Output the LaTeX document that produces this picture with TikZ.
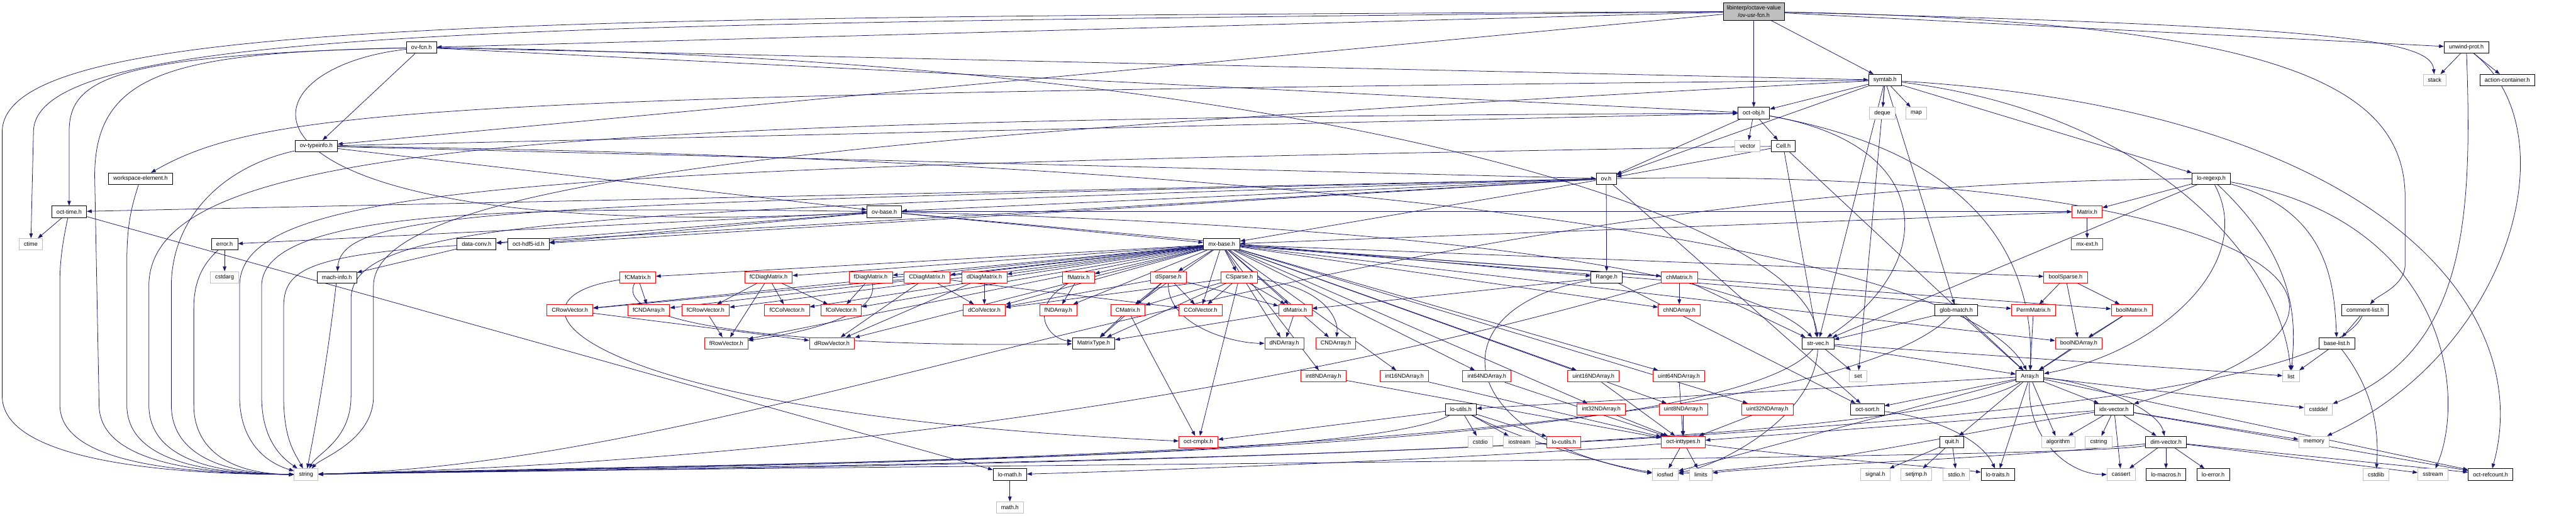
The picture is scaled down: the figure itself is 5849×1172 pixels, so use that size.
\documentclass[tikz,border=0pt]{standalone}
\usepackage{fontspec}
\setmainfont{Liberation Sans}
\usetikzlibrary{arrows.meta}
\definecolor{edgeblue}{HTML}{191970}
\definecolor{greyline}{HTML}{BFBFBF}
\pgfdeclarelayer{bg}
\pgfdeclarelayer{edges}
\pgfsetlayers{bg,edges,main}
\begin{document}
\begin{tikzpicture}[x=1pt,y=1pt,
  box/.style={font=\fontsize{13}{16}\selectfont, inner xsep=11pt, inner ysep=0pt, minimum height=26pt, line width=1.2pt, fill=white},
  nb/.style={box, draw=black},
  ng/.style={box, draw=greyline},
  nr/.style={box, draw=red},
  nroot/.style={box, draw=black, fill=greyline, align=center, minimum height=40pt, inner xsep=8pt},
  e/.style={draw=edgeblue, line width=1.1pt, -{Triangle[length=11pt,width=8pt]}},
]
\useasboundingbox (0,0) rectangle (5849,-1172);
\begin{pgfonlayer}{bg}
\fill[white] (0,0) rectangle (5849,-1172);
\end{pgfonlayer}

% ---------- nodes ----------
\node[nroot] (root) at (3982,-26) {libinterp/octave-value\\/ov-usr-fcn.h};
\node[nb] (ovfcn) at (957,-108) {ov-fcn.h};
\node[nb] (unwind) at (5600,-108) {unwind-prot.h};
\node[nb] (symtab) at (4280,-182) {symtab.h};
\node[ng] (stack) at (5528,-182) {stack};
\node[nb] (actcont) at (5693,-182) {action-container.h};
\node[ng] (deque) at (4274,-257) {deque};
\node[ng] (map) at (4351,-257) {map};
\node[nb] (octobj) at (3982,-257) {oct-obj.h};
\node[ng] (vector) at (3968,-332) {vector};
\node[nb] (cell) at (4049,-332) {Cell.h};
\node[nb] (typeinfo) at (718,-332) {ov-typeinfo.h};
\node[nb] (wse) at (319,-406) {workspace-element.h};
\node[nb] (ovh) at (3647,-406) {ov.h};
\node[nb] (regexp) at (5021,-406) {lo-regexp.h};
\node[nb] (octtime) at (157,-481) {oct-time.h};
\node[nb] (ovbase) at (2008,-481) {ov-base.h};
\node[nr] (matrix) at (4739,-481) {Matrix.h};
\node[ng] (ctime) at (70,-555) {ctime};
\node[nb] (errorh) at (510,-555) {error.h};
\node[nb] (dataconv) at (1082,-555) {data-conv.h};
\node[nb] (hdf5) at (1200,-555) {oct-hdf5-id.h};
\node[nb] (mxbase) at (2774,-555) {mx-base.h};
\node[nr] (mxext) at (4739,-555) {mx-ext.h};
\node[ng] (cstdarg) at (510,-630) {cstdarg};
\node[nb] (machinfo) at (765,-630) {mach-info.h};
\node[nr] (fCMatrix) at (1448,-630) {fCMatrix.h};
\node[nr] (fCDiagMatrix) at (1745,-630) {fCDiagMatrix.h};
\node[nr] (fDiagMatrix) at (1977,-630) {fDiagMatrix.h};
\node[nr] (CDiagMatrix) at (2105,-630) {CDiagMatrix.h};
\node[nr] (dDiagMatrix) at (2235,-630) {dDiagMatrix.h};
\node[nr] (fMatrix) at (2449,-630) {fMatrix.h};
\node[nr] (dSparse) at (2653,-630) {dSparse.h};
\node[nr] (CSparse) at (2814,-630) {CSparse.h};
\node[nb] (Range) at (3648,-630) {Range.h};
\node[nr] (chMatrix) at (3813,-630) {chMatrix.h};
\node[nr] (boolSparse) at (4690,-630) {boolSparse.h};
\node[nr] (CRowVector) at (1294,-705) {CRowVector.h};
\node[nr] (fCNDArray) at (1473,-705) {fCNDArray.h};
\node[nr] (fCRowVector) at (1602,-705) {fCRowVector.h};
\node[nr] (fCColVector) at (1787,-705) {fCColVector.h};
\node[nr] (fColVector) at (1910,-705) {fColVector.h};
\node[nr] (dColVector) at (2235,-705) {dColVector.h};
\node[nr] (fNDArray) at (2403,-705) {fNDArray.h};
\node[nr] (CMatrix) at (2561,-705) {CMatrix.h};
\node[nr] (CColVector) at (2726,-705) {CColVector.h};
\node[nr] (dMatrix) at (2941,-705) {dMatrix.h};
\node[nr] (chNDArray) at (3813,-705) {chNDArray.h};
\node[nb] (globmatch) at (4442,-705) {glob-match.h};
\node[nr] (PermMatrix) at (4617,-705) {PermMatrix.h};
\node[nr] (boolMatrix) at (4840,-705) {boolMatrix.h};
\node[nb] (commentlist) at (5370,-705) {comment-list.h};
\node[nr] (fRowVector) at (1649,-780) {fRowVector.h};
\node[nr] (dRowVector) at (1889,-780) {dRowVector.h};
\node[nb] (MatrixType) at (2483,-780) {MatrixType.h};
\node[nr] (dNDArray) at (2916,-780) {dNDArray.h};
\node[nr] (CNDArray) at (3033,-780) {CNDArray.h};
\node[nb] (strvec) at (4128,-780) {str-vec.h};
\node[nr] (boolNDArray) at (4720,-780) {boolNDArray.h};
\node[nb] (baselist) at (5306,-780) {base-list.h};
\node[nr] (int8) at (3005,-855) {int8NDArray.h};
\node[nr] (int16) at (3189,-855) {int16NDArray.h};
\node[nr] (int64) at (3376,-855) {int64NDArray.h};
\node[nr] (uint16) at (3618,-855) {uint16NDArray.h};
\node[nr] (uint64) at (3812,-855) {uint64NDArray.h};
\node[ng] (set) at (4219,-855) {set};
\node[nb] (Array) at (4609,-855) {Array.h};
\node[ng] (list) at (5202,-855) {list};
\node[nb] (loutils) at (3317,-930) {lo-utils.h};
\node[nr] (int32) at (3636,-930) {int32NDArray.h};
\node[nr] (uint8) at (3822,-930) {uint8NDArray.h};
\node[nr] (uint32) at (4013,-930) {uint32NDArray.h};
\node[nb] (octsort) at (4240,-930) {oct-sort.h};
\node[nb] (idxvector) at (4800,-930) {idx-vector.h};
\node[ng] (cstddef) at (5264,-930) {cstddef};
\node[nr] (octcmplx) at (2721,-1004) {oct-cmplx.h};
\node[ng] (cstdio) at (3361,-1004) {cstdio};
\node[ng] (iostream) at (3450,-1004) {iostream};
\node[nr] (locutils) at (3551,-1004) {lo-cutils.h};
\node[nr] (inttypes) at (3822,-1004) {oct-inttypes.h};
\node[nb] (quit) at (4432,-1004) {quit.h};
\node[ng] (algorithm) at (4673,-1004) {algorithm};
\node[ng] (cstring) at (4765,-1004) {cstring};
\node[nb] (dimvector) at (4918,-1004) {dim-vector.h};
\node[ng] (memory) at (5254,-1004) {memory};
\node[ng] (string) at (695,-1078) {string};
\node[nb] (lomath) at (2293,-1078) {lo-math.h};
\node[ng] (iosfwd) at (3781,-1078) {iosfwd};
\node[ng] (limits) at (3862,-1078) {limits};
\node[ng] (signal) at (4258,-1078) {signal.h};
\node[ng] (setjmp) at (4351,-1078) {setjmp.h};
\node[ng] (stdio) at (4442,-1078) {stdio.h};
\node[nb] (lotraits) at (4536,-1078) {lo-traits.h};
\node[ng] (cassert) at (4816,-1078) {cassert};
\node[nb] (lomacros) at (4918,-1078) {lo-macros.h};
\node[nb] (loerror) at (5025,-1078) {lo-error.h};
\node[ng] (cstdlib) at (5395,-1078) {cstdlib};
\node[ng] (sstream) at (5524,-1078) {sstream};
\node[nb] (refcount) at (5655,-1078) {oct-refcount.h};
\node[ng] (mathh) at (2293,-1153) {math.h};

% ---------- edges ----------
\begin{pgfonlayer}{edges}
% root
\draw[e] (root) -- (ovfcn);
\draw[e] (root) -- (typeinfo);
\draw[e] (root) -- (symtab);
\draw[e] (root) -- (octobj);
\draw[e] (root) -- (unwind);
\draw[e] (root) .. controls (5300,-60) and (5520,-90) .. (stack);
\draw[e] (root) .. controls (5200,-50) and (5461,-200) .. (5461,-450) -- (5461,-600) .. controls (5461,-650) and (5400,-670) .. (commentlist);
\draw[e] (root) .. controls (1200,-55) and (76,-60) .. (76,-300) -- (ctime);
\draw[e] (root) .. controls (1200,-40) and (5,-40) .. (5,-300) -- (5,-900) .. controls (5,-1060) and (450,-1078) .. (string);
% ov-fcn.h
\draw[e] (ovfcn) .. controls (250,-125) and (157,-180) .. (157,-300) -- (octtime);
\draw[e] (ovfcn) .. controls (400,-120) and (215,-160) .. (215,-400) -- (225,-920) .. controls (225,-1050) and (450,-1077) .. (string);
\draw[e] (ovfcn) -- (typeinfo);
\draw[e] (ovfcn) .. controls (500,-160) and (470,-560) .. (ovbase);
\draw[e] (ovfcn) -- (symtab);
\draw[e] (ovfcn) -- (octobj);
\draw[e] (ovfcn) .. controls (3000,-130) and (4100,-500) .. (strvec);
% ov-typeinfo.h
\draw[e] (typeinfo) .. controls (500,-380) and (389,-500) .. (389,-650) -- (389,-920) .. controls (389,-1030) and (500,-1077) .. (string);
\draw[e] (typeinfo) -- (octobj);
\draw[e] (typeinfo) -- (ovh);
\draw[e] (typeinfo) .. controls (3000,-360) and (4450,-560) .. (Array);
\draw[e] (typeinfo) -- (ovbase);
% symtab.h
\draw[e] (symtab) -- (deque);
\draw[e] (symtab) -- (map);
\draw[e] (symtab) -- (octobj);
\draw[e] (symtab) -- (regexp);
\draw[e] (symtab) -- (globmatch);
\draw[e] (symtab) -- (set);
\draw[e] (symtab) -- (ovh);
\draw[e] (symtab) -- (strvec);
\draw[e] (symtab) .. controls (1000,-215) and (600,-245) .. (wse);
\draw[e] (symtab) .. controls (4900,-260) and (5180,-600) .. (list);
\draw[e] (symtab) .. controls (5400,-250) and (5760,-700) .. (refcount);
\draw[e] (symtab) .. controls (2000,-300) and (848,-400) .. (848,-650) -- (848,-900) .. controls (848,-1000) and (730,-1040) .. (string);
% oct-obj.h
\draw[e] (octobj) -- (vector);
\draw[e] (octobj) -- (cell);
\draw[e] (octobj) -- (ovh);
\draw[e] (octobj) .. controls (4400,-330) and (4400,-600) .. (strvec);
\draw[e] (octobj) .. controls (4500,-350) and (4620,-600) .. (Array);
\draw[e] (octobj) .. controls (1200,-270) and (338,-330) .. (338,-650) -- (338,-920) .. controls (338,-1040) and (480,-1077) .. (string);
% Cell.h
\draw[e] (cell) -- (ovh);
\draw[e] (cell) -- (strvec);
\draw[e] (cell) -- (Array);
\draw[e] (cell) .. controls (1200,-380) and (544,-420) .. (544,-650) -- (544,-900) .. controls (544,-1000) and (600,-1050) .. (string);
% ov.h
\draw[e] (ovh) -- (ovbase);
\draw[e] (ovh) -- (Range);
\draw[e] (ovh) -- (octtime);
\draw[e] (ovh) -- (dataconv);
\draw[e] (ovh) -- (hdf5);
\draw[e] (ovh) -- (mxbase);
\draw[e] (ovh) -- (octsort);
\draw[e] (ovh) .. controls (1200,-465) and (778,-470) .. (machinfo);
\draw[e] (ovh) .. controls (5100,-380) and (5600,-700) .. (idxvector);
\draw[e] (ovh) .. controls (1300,-480) and (797,-500) .. (797,-680) -- (797,-900) .. controls (797,-1000) and (720,-1030) .. (string);
% ov-base.h
\draw[e] (ovbase) -- (mxbase);
\draw[e] (ovbase) -- (errorh);
\draw[e] (ovbase) -- (dataconv);
\draw[e] (ovbase) -- (hdf5);
\draw[e] (ovbase) -- (matrix);
\draw[e] (ovbase) -- (Range);
\draw[e] (ovbase) .. controls (3500,-520) and (4000,-650) .. (strvec);
\draw[e] (ovbase) .. controls (1200,-470) and (594,-470) .. (594,-650) -- (594,-900) .. controls (594,-1000) and (640,-1040) .. (string);
% small left nodes
\draw[e] (wse) .. controls (295,-480) and (288,-520) .. (288,-600) -- (288,-920) .. controls (288,-1045) and (460,-1077) .. (string);
\draw[e] (octtime) -- (ctime);
\draw[e] (octtime) .. controls (140,-560) and (136,-600) .. (136,-640) -- (136,-920) .. controls (136,-1050) and (400,-1076) .. (string);
\draw[e] (octtime) -- (lomath);
\draw[e] (errorh) -- (cstdarg);
\draw[e] (errorh) .. controls (460,-600) and (440,-640) .. (440,-700) -- (440,-920) .. controls (440,-1020) and (520,-1077) .. (string);
\draw[e] (dataconv) -- (machinfo);
\draw[e] (dataconv) .. controls (680,-580) and (644,-620) .. (644,-700) -- (644,-900) .. controls (644,-1000) and (670,-1030) .. (string);
\draw[e] (machinfo) .. controls (746,-800) and (720,-950) .. (string);
% mx-base.h
\foreach \t in {fCMatrix,fCDiagMatrix,fDiagMatrix,CDiagMatrix,dDiagMatrix,fMatrix,dSparse,CSparse,chMatrix,boolSparse,CRowVector,fCNDArray,fCRowVector,fCColVector,fColVector,dColVector,fNDArray,CMatrix,CColVector,dMatrix,chNDArray,PermMatrix,boolMatrix,fRowVector,dRowVector,dNDArray,CNDArray,boolNDArray,int8,int16,int64,uint16,uint64,int32,uint8,uint32}
  {\draw[e] (mxbase) -- (\t);}
% Matrix.h
\draw[e] (matrix) -- (mxbase);
\draw[e] (matrix) -- (mxext);
% matrix families
\draw[e] (fCMatrix) -- (fCNDArray);
\draw[e] (fCMatrix) .. controls (1100,-680) and (1300,-940) .. (octcmplx);
\draw[e] (fCMatrix) .. controls (1380,-760) and (2000,-790) .. (MatrixType);
\draw[e] (fCDiagMatrix) -- (fCRowVector);
\draw[e] (fCDiagMatrix) -- (fRowVector);
\draw[e] (fCDiagMatrix) -- (fCColVector);
\draw[e] (fCDiagMatrix) -- (fColVector);
\draw[e] (fDiagMatrix) -- (fColVector);
\draw[e] (fDiagMatrix) .. controls (2000,-720) and (1800,-760) .. (fRowVector);
\draw[e] (CDiagMatrix) -- (dColVector);
\draw[e] (CDiagMatrix) -- (dRowVector);
\draw[e] (CDiagMatrix) -- (CColVector);
\draw[e] (CDiagMatrix) -- (CRowVector);
\draw[e] (dDiagMatrix) -- (dColVector);
\draw[e] (dDiagMatrix) -- (dRowVector);
\draw[e] (fMatrix) -- (fNDArray);
\draw[e] (fMatrix) .. controls (2330,-700) and (2380,-770) .. (MatrixType);
\draw[e] (dSparse) -- (CMatrix);
\draw[e] (dSparse) -- (CColVector);
\draw[e] (dSparse) -- (dColVector);
\draw[e] (dSparse) -- (dMatrix);
\draw[e] (dSparse) .. controls (2650,-740) and (2800,-780) .. (dNDArray);
\draw[e] (dSparse) -- (MatrixType);
\draw[e] (CSparse) -- (CColVector);
\draw[e] (CSparse) -- (CMatrix);
\draw[e] (CSparse) -- (dColVector);
\draw[e] (CSparse) -- (dMatrix);
\draw[e] (CSparse) -- (MatrixType);
\draw[e] (CSparse) -- (octcmplx);
\draw[e] (CSparse) .. controls (3000,-650) and (3040,-720) .. (CNDArray);
\draw[e] (CMatrix) -- (MatrixType);
\draw[e] (CMatrix) -- (octcmplx);
\draw[e] (dMatrix) -- (dNDArray);
\draw[e] (dMatrix) -- (MatrixType);
\draw[e] (CRowVector) -- (dRowVector);
\draw[e] (fCRowVector) -- (fRowVector);
\draw[e] (chMatrix) -- (chNDArray);
\draw[e] (chMatrix) -- (strvec);
\draw[e] (boolSparse) -- (PermMatrix);
\draw[e] (boolSparse) -- (boolNDArray);
\draw[e] (boolSparse) -- (boolMatrix);
\draw[e] (boolMatrix) -- (boolNDArray);
\draw[e] (boolMatrix) -- (Array);
\draw[e] (PermMatrix) -- (Array);
\draw[e] (boolNDArray) -- (Array);
\draw[e] (Range) -- (dMatrix);
\draw[e] (Range) -- (octsort);
\draw[e] (Range) .. controls (3250,-700) and (3300,-1000) .. (iosfwd);
\foreach \t in {int8,int16,int64,uint16,uint64,int32,uint8,uint32}
  {\draw[e] (\t) -- (inttypes);}
% lower nodes
\draw[e] (globmatch) -- (strvec);
\draw[e] (globmatch) -- (Array);
\draw[e] (strvec) -- (set);
\draw[e] (strvec) -- (Array);
\draw[e] (strvec) -- (list);
\draw[e] (strvec) .. controls (4120,-950) and (3900,-1060) .. (iosfwd);
\draw[e] (regexp) -- (matrix);
\draw[e] (regexp) -- (strvec);
\draw[e] (regexp) .. controls (5126,-600) and (4900,-800) .. (Array);
\draw[e] (regexp) .. controls (5228,-600) and (5210,-750) .. (list);
\draw[e] (regexp) .. controls (5290,-480) and (5300,-650) .. (baselist);
\draw[e] (regexp) .. controls (5560,-500) and (5600,-900) .. (sstream);
\draw[e] (unwind) -- (stack);
\draw[e] (unwind) -- (actcont);
\draw[e] (unwind) .. controls (5614,-500) and (5600,-800) .. (cstddef);
\draw[e] (unwind) .. controls (5840,-300) and (5700,-800) .. (memory);
\draw[e] (commentlist) -- (baselist);
\draw[e] (baselist) -- (list);
\draw[e] (baselist) .. controls (5400,-900) and (5400,-1000) .. (cstdlib);
\draw[e] (Array) -- (octsort);
\draw[e] (Array) -- (idxvector);
\draw[e] (Array) -- (algorithm);
\draw[e] (Array) .. controls (4600,-1000) and (4700,-1078) .. (cassert);
\draw[e] (Array) -- (lotraits);
\draw[e] (Array) -- (quit);
\draw[e] (Array) .. controls (4760,-870) and (4900,-930) .. (dimvector);
\draw[e] (Array) -- (refcount);
\draw[e] (Array) -- (iosfwd);
\draw[e] (Array) -- (cstddef);
\draw[e] (Array) -- (loutils);
\draw[e] (octsort) .. controls (4400,-950) and (4500,-1000) .. (lotraits);
\draw[e] (quit) -- (signal);
\draw[e] (quit) -- (setjmp);
\draw[e] (quit) -- (stdio);
\draw[e] (idxvector) -- (cstring);
\draw[e] (idxvector) -- (algorithm);
\draw[e] (idxvector) -- (cassert);
\draw[e] (idxvector) -- (dimvector);
\draw[e] (idxvector) -- (memory);
\draw[e] (idxvector) -- (refcount);
\draw[e] (idxvector) -- (inttypes);
\draw[e] (idxvector) .. controls (4400,-990) and (4200,-1050) .. (iosfwd);
\draw[e] (dimvector) -- (cassert);
\draw[e] (dimvector) -- (lomacros);
\draw[e] (dimvector) -- (loerror);
\draw[e] (dimvector) -- (refcount);
\draw[e] (dimvector) -- (sstream);
\draw[e] (dimvector) .. controls (4500,-1045) and (4000,-1060) .. (limits);
\draw[e] (inttypes) -- (iosfwd);
\draw[e] (inttypes) -- (limits);
\draw[e] (inttypes) .. controls (3400,-1040) and (2600,-1070) .. (lomath);
\draw[e] (inttypes) .. controls (4100,-1040) and (4400,-1060) .. (lotraits);
\draw[e] (loutils) -- (cstdio);
\draw[e] (loutils) -- (iostream);
\draw[e] (loutils) -- (locutils);
\draw[e] (loutils) .. controls (3450,-1000) and (3700,-1070) .. (iosfwd);
\draw[e] (loutils) -- (octcmplx);
\draw[e] (lomath) -- (mathh);
% bundle into string from the right
\draw[e] (loutils) .. controls (3100,-1045) and (1800,-1050) .. (string);
\draw[e] (globmatch) .. controls (4100,-1045) and (1800,-1052) .. (string);
\draw[e] (strvec) .. controls (3900,-1045) and (1800,-1054) .. (string);
\draw[e] (regexp) .. controls (3000,-420) and (1800,-1050) .. (string);
\draw[e] (Array) .. controls (4300,-1045) and (1800,-1056) .. (string);
\draw[e] (dimvector) .. controls (4700,-1045) and (1800,-1058) .. (string);
\draw[e] (commentlist) .. controls (5200,-1045) and (1800,-1060) .. (string);
\draw[e] (chMatrix) .. controls (2900,-900) and (1800,-1050) .. (string);
\end{pgfonlayer}
\end{tikzpicture}
\end{document}
